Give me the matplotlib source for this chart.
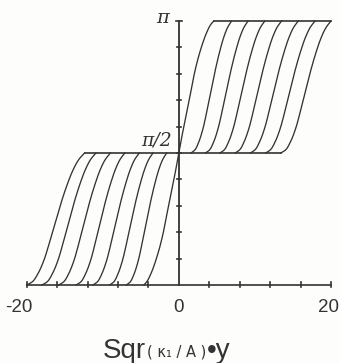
import numpy as np
import matplotlib
matplotlib.use("Agg")
import matplotlib.pyplot as plt

HALF_PI = np.pi / 2

# Central kink through the origin: offset from 0 and rise above pi/2
center_x = [0.0, 0.35, 0.79, 1.22, 1.66, 2.10, 2.76, 3.64, 4.20, 4.60]
center_rise = [0.0, 0.175, 0.37, 0.56, 0.77, 0.97, 1.20, 1.43, 1.53, HALF_PI]

# Normalised shape of one shifted kink (fraction of its width, fraction of pi/2)
kink_t = [0.0, 0.1, 0.2, 0.3, 0.4, 0.5, 0.6, 0.7, 0.8, 0.9, 1.0]
kink_u = [0.0, 0.025, 0.09, 0.19, 0.33, 0.48, 0.63, 0.76, 0.87, 0.95, 1.0]

# Upper branch: where each curve leaves pi/2 and where it reaches pi
upper_start = [1.6, 3.5, 5.4, 7.4, 9.4, 11.4, 13.4]
upper_end = [6.93, 9.10, 11.30, 13.50, 15.70, 17.90, 20.0]

# Lower branch: where each curve leaves 0 and where it reaches pi/2
lower_start = [-6.9, -9.1, -11.3, -13.5, -15.8, -18.0, -20.0]
lower_end = [-1.6, -3.4, -5.2, -7.1, -9.0, -10.9, -12.4]

x_ticks = [-16, -12, -8, -4, 4, 8, 12, 16]
y_ticks = [k * np.pi / 10 for k in range(1, 10)]
x_labels = {-20: "-20", 0: "0", 20: "20"}


def monotone_cubic(xk, yk, xq):
    xk = np.asarray(xk, float)
    yk = np.asarray(yk, float)
    h = np.diff(xk)
    d = np.diff(yk) / h
    m = np.zeros_like(xk)
    m[0], m[-1] = d[0], d[-1]
    for i in range(1, len(xk) - 1):
        if d[i - 1] * d[i] > 0:
            w1 = 2 * h[i] + h[i - 1]
            w2 = h[i] + 2 * h[i - 1]
            m[i] = (w1 + w2) / (w1 / d[i - 1] + w2 / d[i])
    idx = np.clip(np.searchsorted(xk, xq) - 1, 0, len(xk) - 2)
    s = (xq - xk[idx]) / h[idx]
    h00 = 2 * s**3 - 3 * s**2 + 1
    h10 = s**3 - 2 * s**2 + s
    h01 = -2 * s**3 + 3 * s**2
    h11 = s**3 - s**2
    return (h00 * yk[idx] + h10 * h[idx] * m[idx]
            + h01 * yk[idx + 1] + h11 * h[idx] * m[idx + 1])


ink = "#333333"
fig = plt.figure(figsize=(3.40, 3.63), dpi=100, facecolor="#fdfdfb")
ax = fig.add_axes([26.7 / 340, 78 / 363, (331 - 26.7) / 340, 264 / 363])
ax.set_facecolor("none")
ax.set_xlim(-20, 20)
ax.set_ylim(0, np.pi)
lw = 0.95

# central kink, antisymmetric about (0, pi/2)
xs = np.linspace(0, center_x[-1], 150)
rs = monotone_cubic(center_x, center_rise, xs)
ax.plot(xs, HALF_PI + rs, color=ink, lw=lw, clip_on=False)
ax.plot(-xs, HALF_PI - rs, color=ink, lw=lw, clip_on=False)

ts = np.linspace(0, 1, 150)
us = monotone_cubic(kink_t, kink_u, ts)
for a, b in zip(upper_start, upper_end):
    ax.plot(a + ts * (b - a), HALF_PI + HALF_PI * us, color=ink, lw=lw, clip_on=False)
for a, b in zip(lower_start, lower_end):
    ax.plot(a + ts * (b - a), HALF_PI * us, color=ink, lw=lw, clip_on=False)

# plateaus at pi and pi/2
ax.plot([center_x[-1], 20], [np.pi, np.pi], color=ink, lw=1.2, clip_on=False)
ax.plot([0, max(upper_start)], [HALF_PI, HALF_PI], color=ink, lw=1.2, clip_on=False)
ax.plot([min(lower_end), 0], [HALF_PI, HALF_PI], color=ink, lw=1.2, clip_on=False)

# axes drawn as plain lines with crossing ticks
ax.plot([-20, 20], [0, 0], color=ink, lw=1.2, clip_on=False)
ax.plot([0, 0], [0, np.pi], color=ink, lw=1.3, clip_on=False)
for xt in [-20, 20] + x_ticks:
    ax.plot([xt, xt], [-0.025, 0.035], color=ink, lw=1.2, clip_on=False)
for yt in y_ticks:
    ax.plot([-0.3, 0.3], [yt, yt], color=ink, lw=1.2, clip_on=False)
ax.plot([-0.35, 0.35], [np.pi, np.pi], color=ink, lw=1.2, clip_on=False)
ax.axis("off")

font = "Liberation Sans"
label_pos = {-20: (-21.0, "center"), 0: (0.0, "center"), 20: (21.0, "right")}
for xv, txt in x_labels.items():
    xp, ha = label_pos[xv]
    ax.text(xp, -0.17, txt, ha=ha, va="top", fontsize=13.5,
            color=ink, family=font, clip_on=False)
ax.text(-1.3, np.pi + 0.04, "π", ha="right", va="center", fontsize=14,
        color=ink, family="DejaVu Serif", style="italic")
ax.text(-0.9, HALF_PI + 0.04, "π/2", ha="right", va="bottom", fontsize=13.5,
        color=ink, family="DejaVu Serif", style="italic")

t1 = fig.text(103 / 340, 1 - 358 / 363, "Sqr", fontsize=20, color=ink,
              family=font, va="baseline", ha="left")
t2 = ax.annotate("( κ₁ / A )", xy=(1.0, 0.0), xycoords=t1, xytext=(0.5, 3.5),
                 textcoords="offset points", fontsize=10.5, color=ink,
                 family="DejaVu Sans", va="bottom", ha="left")
t3 = ax.annotate("•y", xy=(1.0, 0.0), xycoords=t2, xytext=(0.5, -3.5),
                 textcoords="offset points", fontsize=20, color=ink,
                 family=font, va="bottom", ha="left")

fig.savefig("out.png", dpi=100, facecolor=fig.get_facecolor())
